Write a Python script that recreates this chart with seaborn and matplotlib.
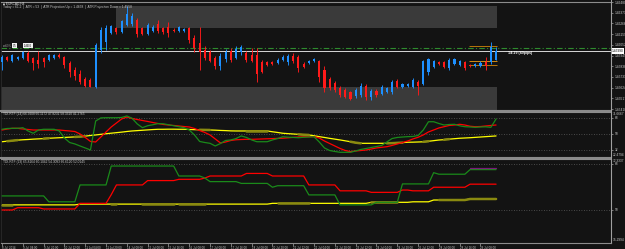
import numpy as np
import matplotlib
matplotlib.use("Agg")
import matplotlib.pyplot as plt
from matplotlib.patches import Rectangle
import seaborn as sns

# ---------------- data ----------------
time_labels = ["8 Jul 2014", "9 Jul 04:00", "9 Jul 20:00", "10 Jul 12:00", "11 Jul 04:00",
               "11 Jul 20:00", "14 Jul 08:00", "15 Jul 00:00", "15 Jul 16:00", "16 Jul 08:00",
               "17 Jul 00:00", "17 Jul 16:00", "18 Jul 08:00", "20 Jul 20:00", "21 Jul 12:00",
               "22 Jul 04:00", "22 Jul 20:00", "23 Jul 12:00", "24 Jul 04:00", "24 Jul 20:00",
               "25 Jul 12:00", "28 Jul 00:00", "28 Jul 16:00", "29 Jul 08:00"]

# EURCAD H4 prices in units of 0.0001
open_pips = [14588, 14593, 14589, 14591, 14592, 14597, 14592, 14590, 14592, 14590,
             14592, 14595, 14593, 14587, 14580, 14576, 14571, 14570, 14563, 14600,
             14608, 14617, 14622, 14618, 14625, 14626, 14630, 14622, 14616, 14619,
             14626, 14622, 14623, 14620, 14619, 14619, 14622, 14612, 14607, 14600,
             14598, 14592, 14584, 14591, 14599, 14592, 14598, 14597, 14595, 14595,
             14588, 14588, 14588, 14587, 14590, 14588, 14594, 14593, 14586, 14587,
             14589, 14589, 14580, 14571, 14567, 14562, 14560, 14558, 14554, 14555,
             14564, 14553, 14559, 14556, 14558, 14558, 14569, 14563, 14564, 14563,
             14568, 14566, 14578, 14583, 14588, 14588, 14582, 14586, 14585, 14588,
             14585, 14584, 14584, 14588, 14588, 14590]
high_pips = [14595, 14594, 14596, 14594, 14599, 14599, 14593, 14599, 14593, 14596,
             14596, 14597, 14594, 14589, 14583, 14580, 14573, 14572, 14607, 14623,
             14625, 14625, 14623, 14630, 14644, 14637, 14632, 14623, 14627, 14625,
             14630, 14623, 14628, 14622, 14624, 14622, 14623, 14615, 14623, 14604,
             14600, 14594, 14597, 14601, 14602, 14604, 14605, 14599, 14602, 14602,
             14590, 14589, 14589, 14592, 14595, 14596, 14597, 14595, 14588, 14590,
             14592, 14590, 14584, 14573, 14569, 14564, 14562, 14559, 14562, 14567,
             14566, 14561, 14561, 14565, 14563, 14570, 14571, 14567, 14567, 14572,
             14570, 14590, 14592, 14590, 14589, 14589, 14592, 14592, 14590, 14589,
             14586, 14587, 14589, 14593, 14608, 14603]
low_pips = [14580, 14589, 14588, 14590, 14591, 14588, 14580, 14582, 14583, 14589,
            14591, 14592, 14582, 14573, 14570, 14566, 14563, 14563, 14562, 14597,
            14600, 14616, 14616, 14617, 14624, 14624, 14613, 14615, 14615, 14618,
            14617, 14616, 14613, 14618, 14618, 14618, 14607, 14598, 14580, 14590,
            14588, 14581, 14580, 14588, 14588, 14591, 14595, 14588, 14588, 14568,
            14577, 14584, 14585, 14586, 14589, 14585, 14587, 14578, 14582, 14586,
            14588, 14568, 14558, 14560, 14558, 14553, 14552, 14550, 14552, 14553,
            14550, 14550, 14553, 14555, 14557, 14556, 14562, 14562, 14563, 14562,
            14555, 14565, 14575, 14582, 14585, 14582, 14580, 14585, 14584, 14580,
            14583, 14583, 14583, 14580, 14586, 14590]
close_pips = [14593, 14590, 14595, 14593, 14598, 14589, 14587, 14586, 14588, 14595,
              14595, 14593, 14585, 14578, 14574, 14568, 14564, 14563, 14605, 14620,
              14622, 14624, 14618, 14629, 14636, 14634, 14616, 14616, 14625, 14623,
              14619, 14618, 14617, 14619, 14623, 14621, 14610, 14602, 14598, 14592,
              14589, 14584, 14594, 14598, 14590, 14601, 14603, 14590, 14589, 14576,
              14578, 14585, 14586, 14590, 14593, 14594, 14589, 14582, 14583, 14589,
              14591, 14573, 14562, 14562, 14560, 14555, 14553, 14551, 14560, 14564,
              14553, 14559, 14555, 14563, 14562, 14568, 14563, 14566, 14566, 14570,
              14564, 14589, 14591, 14589, 14586, 14583, 14590, 14591, 14589, 14582,
              14584, 14586, 14587, 14584, 14603, 14599]

price_ticks = [1.46480, 1.46373, 1.46266, 1.46159, 1.46052, 1.45945,
               1.45838, 1.45731, 1.45624, 1.45517, 1.45410]
current_price = 1.45990
pivot_level = 1.46020
zone_top = (1.4622, 1.4644, 22, 95)      # low, high, first bar, last bar
zone_bottom = (1.4540, 1.4563, 0, 95)
orange_levels = [1.4604, 1.4589, 1.4585]
orange_bars = (90, 95)

# TDI-RTF (14)
tdi1_levels = [68, 50, 32]
tdi1_green = [55.3, 56.2, 56.4, 56.4, 57.1, 53.4, 50.8, 54.5, 55.3, 55.3,
              55.3, 53.4, 45.5, 40.4, 38.8, 36.5, 34.3, 32.0, 64.6, 68.1,
              68.3, 68.3, 68.3, 68.6, 70.3, 67.7, 61.3, 57.1, 59.3, 60.4,
              61.7, 61.5, 60.4, 59.3, 58.2, 57.1, 54.5, 48.9, 41.6, 40.4,
              39.5, 36.5, 39.3, 42.7, 43.3, 44.9, 47.8, 46.1, 43.3, 41.3,
              41.3, 41.3, 43.3, 44.9, 46.9, 46.4, 46.1, 45.8, 46.3, 46.6,
              46.9, 41.0, 34.3, 31.4, 30.3, 29.4, 29.4, 29.4, 30.9, 32.6,
              33.7, 34.8, 35.9, 37.1, 41.0, 44.9, 46.1, 46.6, 47.0, 47.2,
              48.3, 54.5, 63.8, 63.8, 61.8, 60.1, 60.7, 60.9, 59.2, 58.2,
              57.9, 57.5, 57.9, 58.1, 57.5, 66.9]
tdi1_red = [54.5, 55.6, 56.4, 56.4, 55.6, 55.1, 54.5, 54.5, 54.5, 54.5,
            54.5, 54.5, 53.9, 53.4, 52.8, 50.0, 46.1, 41.6, 41.0, 46.6,
            52.3, 57.9, 62.4, 66.9, 69.1, 67.4, 66.3, 65.2, 64.1, 62.9,
            61.8, 60.7, 60.1, 59.6, 59.0, 58.4, 57.9, 56.2, 53.9, 51.7,
            48.9, 44.4, 39.9, 41.0, 42.7, 43.5, 43.8, 44.0, 44.0, 44.2,
            44.4, 44.6, 44.8, 45.0, 45.2, 45.7, 46.2, 46.6, 46.9, 47.0,
            47.0, 45.5, 42.1, 39.3, 36.5, 33.7, 31.4, 30.1, 30.9, 31.4,
            32.0, 33.1, 34.3, 35.0, 35.7, 37.1, 38.8, 40.4, 42.1, 44.4,
            46.3, 48.9, 52.3, 54.5, 56.8, 58.2, 59.6, 60.1, 60.9, 60.1,
            58.7, 58.2, 58.4, 59.0, 59.6, 60.1]
tdi1_yellow = [41.3, 41.9, 42.5, 43.1, 43.5, 43.8, 44.2, 44.5, 44.8, 45.2,
               45.5, 45.8, 46.1, 46.4, 46.7, 47.0, 47.6, 48.3, 48.9, 49.6,
               50.3, 50.9, 51.5, 52.1, 52.8, 53.4, 53.8, 54.2, 54.6, 55.0,
               55.3, 55.3, 55.4, 55.4, 55.3, 55.3, 55.1, 54.9, 54.7, 54.6,
               54.5, 54.3, 54.0, 53.8, 53.5, 53.4, 53.4, 53.4, 53.4, 53.4,
               53.4, 53.4, 52.5, 51.7, 50.8, 50.4, 50.0, 49.6, 49.2, 48.9,
               48.0, 47.0, 46.1, 45.1, 44.2, 43.3, 42.3, 41.3, 40.2, 39.5,
               39.5, 39.5, 39.5, 39.5, 39.5, 39.7, 40.0, 40.3, 40.7, 40.8,
               41.0, 41.2, 41.8, 42.5, 43.2, 43.6, 44.2, 44.7, 45.2, 45.5,
               45.8, 46.2, 46.6, 47.0, 47.4, 47.8]
tdi1_olive_spans = [(1, 3), (8, 9), (14, 16), (38, 40), (47, 51), (57, 59),
                    (67, 69), (74, 77), (81, 82), (85, 86)]

# TDI-RTF (23)
tdi2_levels = [68, 50]
tdi2_green = ([55.5] * 9 + [53.2] * 6 + [59.8] * 6 + [67.2] * 13 + [63.3] * 5 + [62.5]
              + [61.1] * 6 + [60.4] * 6 + [58.9] + [59.5] * 6 + [55.9] * 6 + [52.0] * 7
              + [53.0] * 5 + [60.2] * 6 + [64.6] + [64.0] * 6 + [65.8] * 6)
tdi2_red = ([50.0] * 3 + [50.9] * 5 + [50.4] * 7 + [52.6] * 6 + [56.0] + [59.8] * 6
            + [61.5] * 6 + [62.0] * 5 + [62.5] + [63.3] * 7 + [64.3] * 5 + [63.3] * 7
            + [59.8] * 6 + [57.5] * 6 + [56.9] * 6 + [57.8] * 2 + [57.5] * 4
            + [58.9] * 7 + [60.1] * 6)
tdi2_yellow = ([52.0] * 15 + [52.3] * 37 + [52.6] * 19 + [53.0] * 8 + [53.2] * 4
               + [53.9] * 7 + [54.3] * 6)
tdi2_purple_bars = [90, 91, 92, 93, 94, 95]
tdi2_purple = [66.6, 66.6, 66.6, 66.6, 66.6, 66.6]
tdi2_olive_spans = [(0, 2), (21, 22), (27, 33), (34, 39), (53, 59), (71, 76), (84, 95)]

# ---------------- style ----------------
sns.set_theme(style="dark")
plt.rcParams['font.family'] = ['Liberation Sans', 'DejaVu Sans']

W, H = 625, 249
BG = '#131313'
TXT = '#c8c8c8'
GRID = '#8c8c8c'
FS = 2.3

fig = plt.figure(figsize=(W / 100, H / 100), dpi=100, facecolor=BG)


def rect(x0, y0, x1, y1):
    return [x0 / W, 1 - y1 / H, (x1 - x0) / W, (y1 - y0) / H]


def ptext(x, y, s, **kw):
    kw.setdefault('fontsize', FS)
    kw.setdefault('color', TXT)
    kw.setdefault('va', 'center')
    fig.text(x / W, 1 - y / H, s, **kw)


ax1 = fig.add_axes(rect(1, 2, 611, 110))
ax2 = fig.add_axes(rect(1, 112, 611, 157), sharex=ax1)
ax3 = fig.add_axes(rect(1, 159, 611, 243), sharex=ax1)

bars = np.arange(len(open_pips))
o = np.array(open_pips) / 1e4
h = np.array(high_pips) / 1e4
l = np.array(low_pips) / 1e4
c = np.array(close_pips) / 1e4

for ax in (ax1, ax2, ax3):
    ax.set_facecolor(BG)
    ax.grid(False)
    for side in ('top', 'bottom', 'right'):
        ax.spines[side].set_color(GRID)
        ax.spines[side].set_linewidth(0.8)
    ax.spines['left'].set_color('#2a2a2a')
    ax.spines['left'].set_linewidth(0.6)
    ax.yaxis.tick_right()
    ax.tick_params(axis='y', right=True, left=False, labelright=True, labelleft=False,
                   length=1.5, width=0.4, pad=1, labelsize=FS, colors=TXT)

ax1.set_xlim(-0.2, 117.1)

# ---------------- main price panel ----------------
for lo, hi, b0, b1 in (zone_top, zone_bottom):
    x0 = b0 - 0.1 if b0 > 0 else -0.2
    ax1.fill_between([x0, b1 + 0.2], lo, hi, color='#3a3a3a', linewidth=0, zorder=0)

ax1.axhline(pivot_level, color='#2e8b2e', lw=0.8, ls=(0, (5, 2, 1, 2)), zorder=1)
ax1.axhline(current_price, color='#d8d8d8', lw=0.7, zorder=1)
ax1.hlines(orange_levels, orange_bars[0] - 0.2, orange_bars[1] + 0.2,
           colors=['#b8760a', '#d08a10', '#b8760a'], lw=0.7, zorder=2)

cols = np.where(c >= o, '#1e90ff', '#ff1a1a')
ax1.vlines(bars, l, h, colors=cols, lw=0.65, zorder=3)
body = np.maximum(np.abs(c - o), 0.00006)
ax1.bar(bars, body, bottom=np.minimum(o, c), width=0.4, color=cols, linewidth=0, zorder=4)

ax1.set_ylim(1.4540, 1.4648)
ax1.set_yticks(price_ticks)
ax1.set_yticklabels([f"{p:.5f}" for p in price_ticks])
ax1.text(1.001, current_price, f"{current_price:.5f}", transform=ax1.get_yaxis_transform(),
         fontsize=FS, color='black', va='center', ha='left', clip_on=False,
         bbox=dict(boxstyle='square,pad=0.25', fc='white', ec='white', lw=0))

# ---------------- TDI 14 ----------------
for lv in tdi1_levels:
    ax2.axhline(lv, color='#5c5c5c', lw=0.6, ls=(0, (1, 2)), zorder=1)
sns.lineplot(x=bars, y=tdi1_yellow, ax=ax2, color='#ffff00', lw=0.9, legend=False, zorder=2)
for a, b in tdi1_olive_spans:
    sns.lineplot(x=bars[a:b + 1], y=tdi1_yellow[a:b + 1], ax=ax2, color='#8a8a10',
                 lw=1.8, legend=False, zorder=3)
sns.lineplot(x=bars, y=tdi1_red, ax=ax2, color='#ff0000', lw=0.9, legend=False, zorder=4)
sns.lineplot(x=bars, y=tdi1_green, ax=ax2, color='#1a8a1a', lw=0.9, legend=False, zorder=5)
ax2.set_ylim(24.1, 74.75)
ax2.set_yticks(tdi1_levels)
ax2.set_yticklabels([str(v) for v in tdi1_levels])
ax2.set_ylabel('')
ax2.text(1.003, 0.99, "71.6667", transform=ax2.transAxes, fontsize=FS, color=TXT,
         va='top', ha='left', clip_on=False)
ax2.text(1.003, 0.01, "22.4794", transform=ax2.transAxes, fontsize=FS, color=TXT,
         va='bottom', ha='left', clip_on=False)

# ---------------- TDI 23 ----------------
for lv in tdi2_levels:
    ax3.axhline(lv, color='#5c5c5c', lw=0.6, ls=(0, (1, 2)), zorder=1)
sns.lineplot(x=bars, y=tdi2_yellow, ax=ax3, color='#ffff00', lw=0.9, legend=False, zorder=2)
for a, b in tdi2_olive_spans:
    sns.lineplot(x=bars[a:b + 1], y=tdi2_yellow[a:b + 1], ax=ax3, color='#8a8a10',
                 lw=1.8, legend=False, zorder=3)
sns.lineplot(x=bars, y=tdi2_red, ax=ax3, color='#ff0000', lw=0.9, legend=False, zorder=4)
sns.lineplot(x=bars, y=tdi2_green, ax=ax3, color='#1a8a1a', lw=0.9, legend=False, zorder=5)
sns.lineplot(x=tdi2_purple_bars, y=tdi2_purple, ax=ax3, color='#7a1a7a', lw=0.9,
             legend=False, zorder=5)
ax3.set_ylim(37.08, 69.95)
ax3.set_yticks(tdi2_levels)
ax3.set_yticklabels([str(v) for v in tdi2_levels])
ax3.set_ylabel('')
ax3.text(1.003, 0.995, "72.3337", transform=ax3.transAxes, fontsize=FS, color=TXT,
         va='top', ha='left', clip_on=False)
ax3.text(1.003, 0.01, "15.2994", transform=ax3.transAxes, fontsize=FS, color=TXT,
         va='bottom', ha='left', clip_on=False)

# time axis
tick_pos = bars[::4][:len(time_labels)]
ax3.set_xticks(tick_pos)
ax3.set_xticklabels(time_labels, ha='left')
ax3.tick_params(axis='x', bottom=True, length=2, width=0.4, pad=0.5, labelsize=2.1,
                colors=TXT, direction='out')
for ax in (ax1, ax2):
    ax.tick_params(axis='x', bottom=False, labelbottom=False)
ax3.set_xlabel('')

# separators and right border
for y0 in (110, 157):
    fig.add_artist(Rectangle((0, 1 - (y0 + 2) / H), 611 / W, 2 / H, transform=fig.transFigure,
                             color='#8a8a8a', lw=0))
fig.add_artist(Rectangle((610.5 / W, 1 - 243 / H), 1 / W, 243 / H, transform=fig.transFigure,
                         color='#a0a0a0', lw=0))

# ---------------- texts ----------------
ptext(3, 3.8, "\u25a0 EURCAD,H4", color='#e0e0e0')
ptext(3, 7.3, "Today = 61.2  |  ATR = 53  |  ATR Projection Up = 1.4658  |  "
              "ATR Projection Down = 1.4558")
ptext(3, 45.5, "ext50%", color='#a0a0a0', fontsize=1.9)
ptext(12.5, 45.5, "0.5", color='black', fontsize=1.9,
      bbox=dict(boxstyle='square,pad=0.25', fc='#f0f0f0', ec='none'))
ptext(24, 45.5, "1.4602", color='black', fontsize=1.9,
      bbox=dict(boxstyle='square,pad=0.25', fc='#f0f0f0', ec='none'))
ptext(508, 53.2, "14:29 (49pips)", color='white', fontsize=2.6, fontweight='bold')
ptext(3, 114.2, "TDI-RTF (14) 66.9208 60.1172 47.8231 58.3310 41.2765")
ptext(3, 161.5, "TDI-RTF (23) 65.8164 60.1042 54.3093 66.6120 52.0145")

fig.savefig("out.png", dpi=100, facecolor=BG)
